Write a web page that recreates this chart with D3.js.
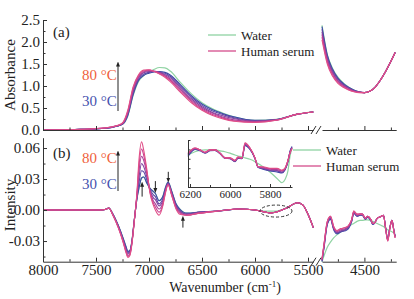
<!DOCTYPE html>
<html>
<head>
<meta charset="utf-8">
<script src="https://cdn.jsdelivr.net/npm/d3@7"></script>
<style>
body { margin: 0; background: #fff; }
</style>
</head>
<body>
<div id="chart"></div>
<script>
// temperatures of the human serum series, 30 -> 80 C
const temps = [30, 40, 50, 60, 70, 80];

// (a) absorbance, left segment 8000-5450 cm-1
const absWaveL = [8000, 7700, 7400, 7300, 7250, 7200, 7150, 7100, 7050, 7000, 6950, 6900, 6850, 6800, 6700, 6600, 6500, 6400, 6300, 6200, 6000, 5800, 5600, 5450];
const absL30 = [0, .01, .04, .09, .13, .33, .80, 1.12, 1.24, 1.29, 1.32, 1.33, 1.31, 1.25, 1.02, .78, .59, .46, .37, .30, .22, .24, .36, .41];
const absL40 = [0, .01, .04, .09, .14, .36, .84, 1.15, 1.27, 1.31, 1.33, 1.32, 1.29, 1.22, .99, .75, .56, .43, .35, .28, .21, .23, .36, .41];
const absL50 = [0, .01, .04, .09, .14, .38, .88, 1.18, 1.30, 1.33, 1.33, 1.31, 1.26, 1.19, .95, .71, .53, .40, .32, .26, .20, .23, .36, .41];
const absL60 = [0, .01, .05, .10, .15, .40, .91, 1.20, 1.32, 1.35, 1.34, 1.30, 1.24, 1.16, .92, .68, .50, .38, .29, .23, .19, .23, .36, .41];
const absL70 = [0, .01, .05, .10, .15, .42, .95, 1.23, 1.34, 1.36, 1.33, 1.28, 1.22, 1.13, .88, .65, .47, .35, .27, .21, .18, .22, .36, .41];
const absL80 = [0, .01, .05, .10, .16, .45, .98, 1.25, 1.36, 1.37, 1.33, 1.27, 1.20, 1.10, .85, .62, .45, .33, .25, .20, .17, .22, .36, .41];
const absLWater = [0, .01, .04, .09, .13, .32, .78, 1.10, 1.24, 1.31, 1.38, 1.42, 1.41, 1.34, 1.07, .82, .62, .48, .38, .30, .22, .24, .36, .41];

// (a) absorbance, right segment 4900-4210 cm-1
const absWaveR = [4900, 4850, 4800, 4750, 4700, 4650, 4600, 4550, 4500, 4450, 4400, 4350, 4300, 4250, 4210];
const absR30 = [2.35, 1.70, 1.38, 1.18, 1.06, .97, .91, .87, .85, .88, .97, 1.13, 1.33, 1.56, 1.76];
const absR40 = [2.29, 1.66, 1.35, 1.16, 1.04, .96, .90, .865, .85, .88, .97, 1.13, 1.33, 1.56, 1.76];
const absR50 = [2.23, 1.62, 1.32, 1.13, 1.02, .95, .89, .86, .85, .88, .97, 1.13, 1.33, 1.56, 1.76];
const absR60 = [2.17, 1.58, 1.29, 1.11, 1.01, .94, .885, .86, .85, .88, .97, 1.13, 1.33, 1.56, 1.76];
const absR70 = [2.11, 1.54, 1.25, 1.08, .99, .92, .875, .855, .85, .88, .97, 1.13, 1.33, 1.56, 1.76];
const absR80 = [2.05, 1.50, 1.22, 1.06, .97, .91, .87, .85, .85, .88, .97, 1.13, 1.33, 1.56, 1.76];
const absRWater = [2.38, 1.72, 1.40, 1.20, 1.07, .98, .91, .87, .85, .88, .97, 1.13, 1.33, 1.56, 1.76];

// (b) intensity, left segment
const intWaveL = [8000, 7700, 7450, 7400, 7380, 7340, 7290, 7245, 7215, 7200, 7180, 7160, 7140, 7115, 7095, 7070, 7050, 7020, 6990, 6960, 6940, 6905, 6870, 6850, 6820, 6785, 6745, 6710, 6645, 6520, 6350, 6150, 6000, 5900, 5850, 5800, 5700, 5600, 5550, 5510, 5480, 5450];
const intL30 = [0, 0, 0, .001, .002, -.004, -.015, -.027, -.036, -.040, -.039, -.029, -.011, .010, .021, .031, .032, .026, .021, .018, .016, .009, .013, .020, .027, .018, .006, .001, -.003, -.002, -.001, .001, 0, -.002, -.003, -.002, .002, .007, .005, -.002, -.009, -.017];
const intL40 = [0, 0, 0, .001, .002, -.004, -.015, -.028, -.037, -.041, -.040, -.030, -.011, .011, .026, .038, .037, .029, .020, .015, .013, .006, .011, .018, .026, .017, .005, 0, -.004, -.002, -.001, .001, 0, -.002, -.003, -.002, .002, .007, .005, -.002, -.009, -.017];
const intL50 = [0, 0, 0, .001, .002, -.004, -.016, -.029, -.039, -.042, -.041, -.030, -.011, .012, .031, .045, .042, .032, .019, .012, .010, .004, .009, .017, .026, .016, .004, -.001, -.004, -.002, -.001, .001, 0, -.002, -.003, -.002, .002, .007, .005, -.002, -.009, -.017];
const intL60 = [0, 0, 0, .001, .002, -.005, -.016, -.030, -.040, -.044, -.042, -.031, -.012, .013, .037, .052, .048, .035, .018, .009, .006, .001, .007, .016, .025, .015, .003, -.002, -.005, -.003, -.001, .001, 0, -.002, -.003, -.002, .002, .007, .005, -.002, -.009, -.017];
const intL70 = [0, 0, 0, .001, .002, -.005, -.017, -.030, -.041, -.045, -.043, -.031, -.012, .014, .042, .059, .053, .037, .017, .007, .003, -.002, .005, .015, .025, .014, .002, -.003, -.005, -.003, -.001, .001, 0, -.002, -.003, -.002, .002, .007, .005, -.002, -.009, -.017];
const intL80 = [0, 0, 0, .001, .002, -.005, -.017, -.031, -.042, -.046, -.044, -.032, -.012, .015, .048, .066, .058, .039, .016, .005, 0, -.005, .004, .014, .024, .014, .001, -.004, -.005, -.003, -.001, .001, 0, -.002, -.003, -.002, .002, .007, .005, -.002, -.009, -.017];
const intLWater = [0, 0, 0, .001, .002, -.004, -.015, -.027, -.036, -.040, -.039, -.029, -.011, .010, .021, .031, .032, .026, .021, .018, .016, .009, .013, .020, .027, .018, .006, .001, -.003, -.002, -.001, .001, 0, -.001, -.001, -.001, .002, .007, .005, -.002, -.009, -.017];

// (b) intensity, right segment
const intWaveR = [4900, 4880, 4850, 4820, 4790, 4760, 4720, 4680, 4650, 4620, 4600, 4570, 4540, 4520, 4490, 4470, 4440, 4420, 4400, 4380, 4360, 4340, 4320, 4300, 4280, 4260, 4240, 4220, 4210];
const intR30 = [-.050, -.036, -.014, -.009, -.019, -.023, -.021, -.020, -.018, -.011, -.003, -.006, -.005, -.005, -.009, -.007, -.010, -.014, -.012, -.008, -.007, -.006, -.005, -.017, -.028, -.017, -.010, -.021, -.025];
const intR40 = [-.049, -.035, -.013, -.008, -.018, -.022, -.021, -.019, -.017, -.011, -.003, -.006, -.005, -.005, -.009, -.007, -.010, -.014, -.012, -.008, -.007, -.006, -.005, -.017, -.028, -.017, -.010, -.021, -.025];
const intR50 = [-.049, -.034, -.013, -.008, -.018, -.022, -.020, -.019, -.016, -.010, -.002, -.005, -.004, -.004, -.008, -.006, -.009, -.013, -.012, -.008, -.007, -.006, -.005, -.017, -.029, -.017, -.010, -.021, -.026];
const intR60 = [-.048, -.033, -.012, -.007, -.017, -.021, -.019, -.018, -.016, -.010, -.002, -.005, -.004, -.004, -.008, -.006, -.009, -.013, -.012, -.008, -.007, -.006, -.005, -.018, -.029, -.018, -.010, -.021, -.026];
const intR70 = [-.048, -.033, -.011, -.006, -.016, -.020, -.018, -.017, -.015, -.009, -.001, -.004, -.004, -.004, -.008, -.006, -.009, -.013, -.012, -.008, -.007, -.006, -.005, -.018, -.030, -.018, -.010, -.022, -.027];
const intR80 = [-.047, -.032, -.011, -.006, -.016, -.020, -.018, -.017, -.015, -.009, -.001, -.004, -.004, -.004, -.008, -.006, -.009, -.013, -.012, -.008, -.007, -.006, -.005, -.018, -.030, -.018, -.010, -.022, -.027];
const intRWater = [-.050, -.044, -.036, -.031, -.027, -.024, -.021, -.018, -.016, -.014, -.013, -.011, -.010, -.010, -.0095, -.0095, -.010, -.011, -.012, -.013, -.014, -.015, -.016, -.018, -.019, -.020, -.021, -.022, -.022];

// inset, 6200-5700 cm-1 (intensity x 1e-3)
const insetWave = [6210, 6175, 6150, 6125, 6100, 6075, 6050, 6025, 6000, 5975, 5960, 5940, 5925, 5900, 5875, 5860, 5835, 5800, 5765, 5740, 5725, 5710, 5700, 5690];
const inset30 = [-1.5, 0.0, -0.3, -0.8, -0.3, -0.2, -0.9, -1.9, -2.0, -2.6, -1.9, -2.0, 0.8, 0.0, -2.0, -3.8, -4.2, -4.6, -4.8, -5.0, -4.4, -2.6, -0.4, 0.6];
const inset40 = [-1.3, 0.1, -0.2, -0.7, -0.2, -0.2, -0.9, -1.9, -1.9, -2.5, -1.8, -1.9, 0.9, 0.1, -1.9, -3.8, -4.1, -4.5, -4.6, -4.9, -4.3, -2.5, -0.5, 0.5];
const inset50 = [-1.2, 0.1, -0.2, -0.7, -0.2, -0.1, -0.8, -1.8, -1.9, -2.5, -1.8, -1.9, 1.0, 0.1, -1.9, -3.7, -4.0, -4.4, -4.5, -4.8, -4.2, -2.4, -0.6, 0.4];
const inset60 = [-1.0, 0.2, -0.1, -0.7, -0.1, -0.1, -0.8, -1.8, -1.9, -2.4, -1.7, -1.9, 1.1, 0.2, -1.9, -3.7, -3.9, -4.2, -4.3, -4.6, -4.1, -2.4, -0.7, 0.3];
const inset70 = [-0.9, 0.3, -0.1, -0.6, -0.1, -0.1, -0.8, -1.8, -1.8, -2.4, -1.7, -1.8, 1.3, 0.3, -1.8, -3.7, -3.8, -4.1, -4.1, -4.5, -4.0, -2.3, -0.7, 0.2];
const inset80 = [-0.8, 0.3, -0.1, -0.6, -0.1, -0.1, -0.8, -1.8, -1.8, -2.3, -1.6, -1.8, 1.4, 0.3, -1.8, -3.7, -3.7, -4.0, -4.0, -4.4, -4.0, -2.3, -0.8, 0.2];
const insetWater = [-1.2, -0.5, -0.2, -0.1, -0.1, -0.1, -0.3, -0.5, -0.8, -1.2, -1.4, -1.6, -1.8, -2.1, -2.6, -3.0, -3.7, -4.8, -6.2, -7.1, -6.4, -4.5, -1.5, 0.3];

// ticks
const xMajorL = [8000, 7500, 7000, 6500, 6000, 5500];
const xMinorL = [7750, 7250, 6750, 6250, 5750];
const xMajorR = [4500];
const xMinorR = [4750, 4250];
const yMajorA = [0, 0.5, 1.0, 1.5, 2.0, 2.5];
const yMinorA = [0.25, 0.75, 1.25, 1.75, 2.25];
const yMajorB = [-0.03, 0, 0.03, 0.06];
const yMinorB = [-0.045, -0.015, 0.015, 0.045];
const insetTicks = [6200, 6000, 5800];
const insetMinor = [6100, 5900, 5700];

// styles
const serif = "'Liberation Serif', 'Times New Roman', Times, serif";
const tempColors = ["#3a4aa6", "#5c47a6", "#8043a0", "#a7409a", "#c94190", "#e14f88"];
const waterColor = "#8fd3a2";
const serumColor = "#d44c8c";

var svg = d3.select("#chart").append("svg")
    .attr("width", 414)
    .attr("height", 299)
    .attr("font-family", serif);

var defs = svg.append("defs");
defs.append("marker")
    .attr("id", "head")
    .attr("viewBox", "0 0 10 10")
    .attr("refX", 5).attr("refY", 5)
    .attr("markerWidth", 5).attr("markerHeight", 6)
    .attr("orient", "auto")
    .append("path")
    .attr("d", "M0,1L10,5L0,9Z")
    .attr("fill", "#222");

//Scales
var xL = d3.scaleLinear().domain([8000, 5450]).range([43, 313.3]);
var xR = d3.scaleLinear().domain([4900, 4200]).range([322, 396.2]);
var yA = d3.scaleLinear().domain([0, 2.5]).range([130, 20]);
var yB = d3.scaleLinear().domain([-0.05, 0.07]).range([261.7, 137.7]);
var xIn = d3.scaleLinear().domain([6210, 5690]).range([188, 292]);
var yIn = d3.scaleLinear().domain([-8, 2]).range([187, 140]);

function drawLines(x, y, waves, series, colors, sw) {
    var line = d3.line()
        .x(function (d) { return x(d[0]); })
        .y(function (d) { return y(d[1]); })
        .curve(d3.curveMonotoneX);
    series.forEach(function (vals, i) {
        svg.append("path")
            .datum(waves.map(function (w, j) { return [w, vals[j]]; }))
            .attr("d", line)
            .attr("fill", "none")
            .attr("stroke", colors[i])
            .attr("stroke-width", sw);
    });
}

function styleAxis(s, size) {
    s.attr("font-family", serif).attr("font-size", size);
    s.selectAll("text").attr("fill", "#222");
    s.selectAll("line,path").attr("stroke", "#333");
}

function xAxis(scale, yPos, major, minor, labels) {
    var g = svg.append("g").attr("transform", "translate(0," + yPos + ")");
    g.call(d3.axisBottom(scale).tickValues(minor).tickSize(-2.5).tickSizeOuter(0).tickFormat(""));
    var g2 = svg.append("g").attr("transform", "translate(0," + yPos + ")");
    g2.call(d3.axisBottom(scale).tickValues(major).tickSize(-4).tickSizeOuter(0).tickPadding(3)
        .tickFormat(labels ? d3.format("d") : ""));
    g2.select(".domain").remove();
    styleAxis(g, 15);
    styleAxis(g2, 15);
}

function yAxis(scale, major, minor, fmt) {
    var g = svg.append("g").attr("transform", "translate(43,0)");
    g.call(d3.axisLeft(scale).tickValues(minor).tickSize(-2.5).tickSizeOuter(0).tickFormat(""));
    var g2 = svg.append("g").attr("transform", "translate(43,0)");
    g2.call(d3.axisLeft(scale).tickValues(major).tickSize(-4).tickSizeOuter(0).tickPadding(3).tickFormat(fmt));
    g2.select(".domain").remove();
    styleAxis(g, 15);
    styleAxis(g2, 15);
}

function breakMarks(yPos) {
    [314, 319].forEach(function (bx) {
        svg.append("line")
            .attr("x1", bx - 3).attr("y1", yPos + 4)
            .attr("x2", bx + 2).attr("y2", yPos - 4)
            .attr("stroke", "#333").attr("stroke-width", 1);
    });
}

//Panel (a)
drawLines(xL, yA, absWaveL, [absLWater], [waterColor], 1.2);
drawLines(xL, yA, absWaveL, [absL30, absL40, absL50, absL60, absL70, absL80], tempColors, 1.1);
drawLines(xR, yA, absWaveR, [absRWater], [waterColor], 1.2);
drawLines(xR, yA, absWaveR, [absR30, absR40, absR50, absR60, absR70, absR80], tempColors, 1.1);

xAxis(xL, 130, xMajorL, xMinorL, false);
xAxis(xR, 130, xMajorR, xMinorR, false);
breakMarks(130);
yAxis(yA, yMajorA, yMinorA, d3.format(".1f"));

//Panel (b)
drawLines(xL, yB, intWaveL, [intLWater], [waterColor], 1.2);
drawLines(xL, yB, intWaveL, [intL30, intL40, intL50, intL60, intL70, intL80], tempColors, 1.1);
drawLines(xR, yB, intWaveR, [intRWater], [waterColor], 1.2);
drawLines(xR, yB, intWaveR, [intR30, intR40, intR50, intR60, intR70, intR80], tempColors, 1.1);

xAxis(xL, 261.7, xMajorL, xMinorL, true);
xAxis(xR, 261.7, xMajorR, xMinorR, true);
breakMarks(261.7);
yAxis(yB, yMajorB, yMinorB, function (d) { return d.toFixed(2); });

//Inset
drawLines(xIn, yIn, insetWave, [insetWater], [waterColor], 1.2);
drawLines(xIn, yIn, insetWave, [inset30, inset40, inset50, inset60, inset70, inset80], tempColors, 1.1);
var gi = svg.append("g").attr("transform", "translate(0,187)");
gi.call(d3.axisBottom(xIn).tickValues(insetTicks).tickSize(-3).tickSizeOuter(0).tickPadding(3).tickFormat(d3.format("d")));
var gi2 = svg.append("g").attr("transform", "translate(0,187)");
gi2.call(d3.axisBottom(xIn).tickValues(insetMinor).tickSize(-2).tickSizeOuter(0).tickFormat(""));
gi2.select(".domain").remove();
var gy = svg.append("g").attr("transform", "translate(188,0)");
gy.call(d3.axisLeft(yIn).ticks(5).tickSize(-2.5).tickSizeOuter(0).tickFormat(""));
[gi, gi2, gy].forEach(function (s) { styleAxis(s, 11); });

//Dashed ellipse around the region shown in the inset
svg.append("ellipse")
    .attr("cx", xL(5802)).attr("cy", yB(-0.001))
    .attr("rx", 16).attr("ry", 6)
    .attr("fill", "none").attr("stroke", "#333")
    .attr("stroke-dasharray", "3,2").attr("stroke-width", 1);

//Small arrows on the peaks
var peakArrows = [
    { w: 7065, from: 0.013, to: 0.025 },
    { w: 6940, from: 0.028, to: 0.019 },
    { w: 6818, from: 0.037, to: 0.029 },
    { w: 6680, from: -0.017, to: -0.008 }
];
peakArrows.forEach(function (a) {
    svg.append("line")
        .attr("x1", xL(a.w)).attr("x2", xL(a.w))
        .attr("y1", yB(a.from)).attr("y2", yB(a.to))
        .attr("stroke", "#222").attr("stroke-width", 1)
        .attr("marker-end", "url(#head)");
});

//Temperature labels and arrows
function tempLabel(yTop, yBot, arrowTop, arrowBot) {
    svg.append("text").attr("x", 82).attr("y", yTop)
        .attr("fill", "#ef5f3c").attr("font-size", 15).text("80 °C");
    svg.append("text").attr("x", 82).attr("y", yBot)
        .attr("fill", "#4652ae").attr("font-size", 15).text("30 °C");
    svg.append("line")
        .attr("x1", 118).attr("x2", 118)
        .attr("y1", arrowBot).attr("y2", arrowTop)
        .attr("stroke", "#222").attr("stroke-width", 1)
        .attr("marker-end", "url(#head)");
}
tempLabel(80, 106, 64, 111);
tempLabel(163, 189, 153, 191);

//Panel letters
svg.append("text").attr("x", 53).attr("y", 37).attr("font-size", 15).attr("fill", "#222").text("(a)");
svg.append("text").attr("x", 53).attr("y", 158).attr("font-size", 15).attr("fill", "#222").text("(b)");

//Legends
function legend(x0, y0) {
    var items = [["Water", waterColor], ["Human serum", serumColor]];
    items.forEach(function (it, i) {
        var yy = y0 + i * 16;
        svg.append("line")
            .attr("x1", x0).attr("x2", x0 + 28)
            .attr("y1", yy).attr("y2", yy)
            .attr("stroke", it[1]).attr("stroke-width", 1.3);
        svg.append("text")
            .attr("x", x0 + 33).attr("y", yy + 4.5)
            .attr("font-size", 13).attr("fill", "#222").text(it[0]);
    });
}
legend(208, 35);
legend(293, 150);

//Axis titles
svg.append("text")
    .attr("transform", "translate(15,75)rotate(-90)")
    .attr("text-anchor", "middle")
    .attr("font-size", 15).attr("fill", "#222")
    .text("Absorbance");
svg.append("text")
    .attr("transform", "translate(15,205)rotate(-90)")
    .attr("text-anchor", "middle")
    .attr("font-size", 15).attr("fill", "#222")
    .text("Intensity");
var xt = svg.append("text")
    .attr("x", 225).attr("y", 292)
    .attr("text-anchor", "middle")
    .attr("font-size", 14).attr("fill", "#222");
xt.append("tspan").text("Wavenumber (cm");
xt.append("tspan").attr("dy", -5).attr("font-size", 9).text("-1");
xt.append("tspan").attr("dy", 5).text(")");
</script>
</body>
</html>
